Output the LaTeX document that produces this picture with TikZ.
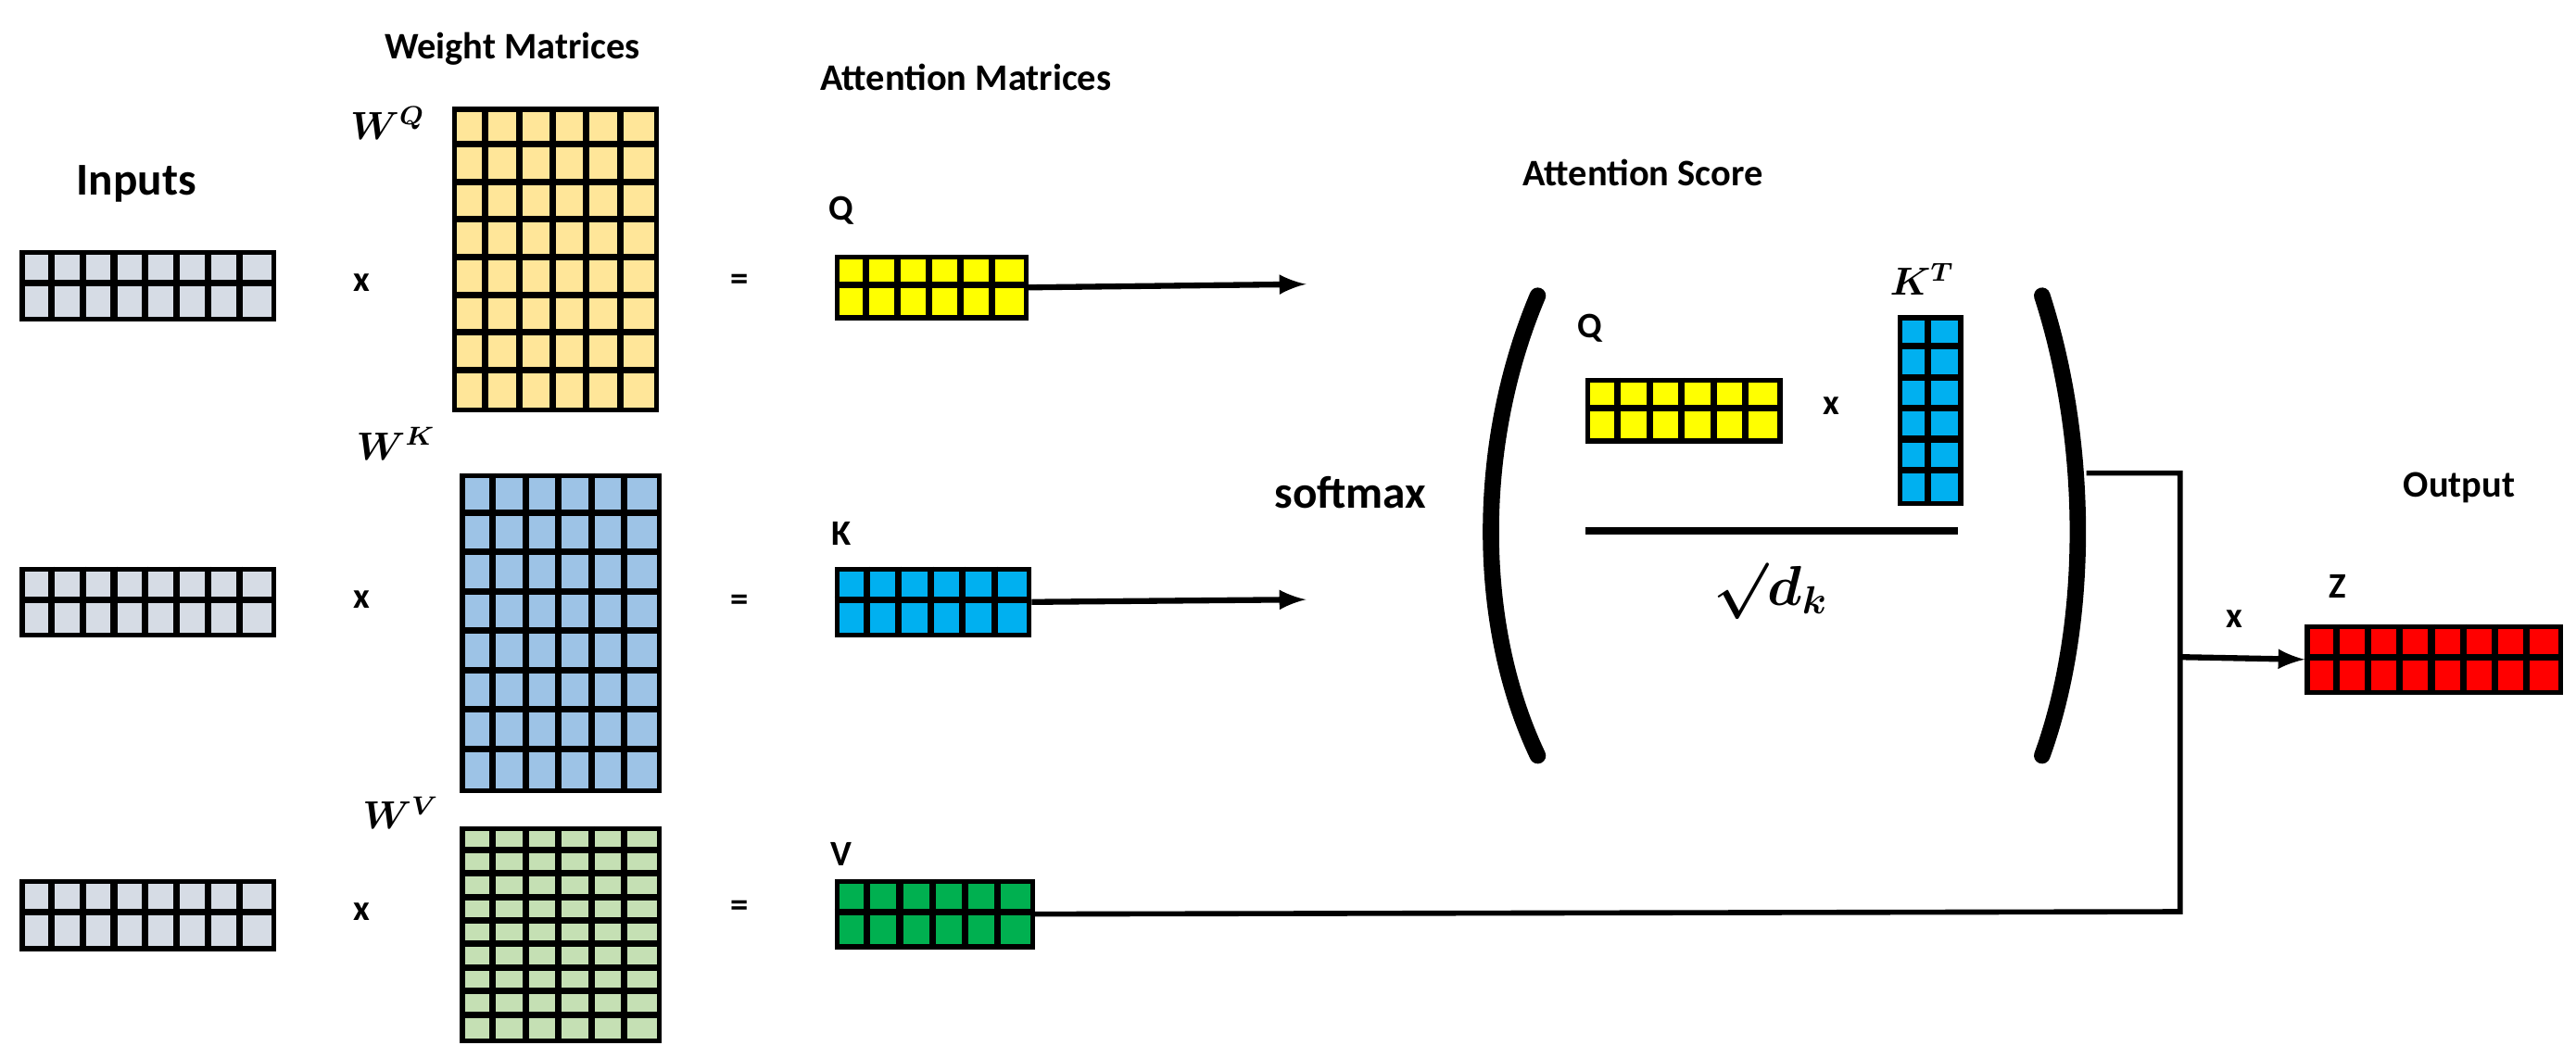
\documentclass[tikz,border=0pt]{standalone}
\usepackage{amsmath}
\usepackage{fontspec}
\setmainfont{Carlito}
\begin{document}
\newcommand\mymat[8]{% name, x0,y0,x1,y1, cols, rows, color
  \node[draw=black,fill=#8,line width=1.5pt,inner sep=0,minimum width={(#4-#2)*0.01773cm},minimum height={(#5-#3)*0.01773cm},anchor=north west] (#1) at (#2,#3) {};
  \pgfmathsetmacro\cw{(#4-#2)/#6}\pgfmathsetmacro\rh{(#5-#3)/#7}
  \foreach \i in {1,...,\numexpr#6-1\relax}{\draw[line width=2pt] ({#2+\i*\cw},#3) -- ({#2+\i*\cw},#5);}
  \foreach \j in {1,...,\numexpr#7-1\relax}{\draw[line width=2pt] (#2,{#3+\j*\rh}) -- (#4,{#3+\j*\rh});}
}
\begin{tikzpicture}[x=0.01773cm,y=-0.01773cm,
  ttl/.style={font=\fontsize{11.5}{13}\selectfont\bfseries},
  big/.style={font=\fontsize{14}{16}\selectfont\bfseries},
  lbl/.style={font=\fontsize{11}{13}\selectfont\bfseries},
  mth/.style={font=\fontsize{12}{14}\selectfont},
  arr/.style={line width=1.8pt,-latex}]
\useasboundingbox (0,0) rectangle (1568,644);
\definecolor{inp}{HTML}{D6DCE5}\definecolor{wq}{HTML}{FFE699}\definecolor{wk}{HTML}{9DC3E6}
\definecolor{wv}{HTML}{C5E0B4}\definecolor{yq}{HTML}{FFFF00}\definecolor{bk}{HTML}{00B0F0}
\definecolor{gv}{HTML}{00B050}\definecolor{rz}{HTML}{FF0000}
\node[ttl] (t1) at (312,30) {Weight Matrices};
\node[ttl] (t2) at (588,47) {Attention Matrices};
\node[big] (t3) at (83,112) {Inputs};
\node[ttl] (t4) at (1000,105) {Attention Score};
\node[ttl] (t5) at (1497,297) {Output};
\mymat{i1}{12}{152}{165}{193}{8}{2}{inp}
\mymat{i2}{12}{345}{165}{385}{8}{2}{inp}
\mymat{i3}{12}{535}{165}{576}{8}{2}{inp}
\mymat{wq}{275}{65}{398}{248}{6}{8}{wq}
\mymat{wk}{280}{288}{400}{480}{6}{8}{wk}
\mymat{wv}{280}{503}{400}{632}{6}{9}{wv}
\node[mth] (lwq) at (236,75) {$\boldsymbol{W^{Q}}$};
\node[mth] (lwk) at (241,270) {$\boldsymbol{W^{K}}$};
\node[mth] (lwv) at (244,495) {$\boldsymbol{W^{V}}$};
\foreach \y/\n in {172/1,365/2,555/3}{\node[lbl] (x\n) at (220,\y) {x};}
\foreach \y/\n in {172/1,367/2,553/3}{\node[lbl] (e\n) at (450,\y) {=};}
\mymat{q}{508}{155}{623}{192}{6}{2}{yq}
\mymat{k}{508}{345}{625}{385}{6}{2}{bk}
\mymat{v}{508}{535}{627}{575}{6}{2}{gv}
\node[lbl] (lq) at (512,128) {Q};
\node[lbl] (lk) at (512,325) {K};
\node[lbl] (lv) at (512,520) {V};
\coordinate (qa) at (795,173);
\coordinate (ka) at (795,365);
\draw[arr] (q.east) -- (qa);
\draw[arr] (k.east) -- (ka);
\node[big] (sm) at (822,300) {softmax};
\draw[line width=5pt,line cap=round] (936,180) .. controls (898,270) and (898,380) .. (936,460);
\draw[line width=5pt,line cap=round] (1243,180) .. controls (1272,270) and (1272,380) .. (1243,460);
\mymat{qi}{965}{230}{1082}{267}{6}{2}{yq}
\mymat{kt}{1155}{192}{1192}{305}{2}{6}{bk}
\node[lbl] (lqi) at (968,200) {Q};
\node[mth] (lkt) at (1170,170) {$\boldsymbol{K^{T}}$};
\node[lbl] (xi) at (1115,247) {x};
\coordinate (fl) at (965,323); \coordinate (fr) at (1192,323);
\draw[line width=2.2pt] (fl) -- (fr);
\node[font=\fontsize{17}{19}\selectfont] (dk) at (1078,360) {$\boldsymbol{\surd d_k}$};
\coordinate (p1) at (1270,288); \coordinate (j1) at (1327,288);
\coordinate (j2) at (1327,555); \coordinate (j3) at (1327,400);
\draw[line width=1.6pt] (p1) -- (j1) -- (j2) -- (v.east);
\mymat{z}{1403}{380}{1557}{420}{8}{2}{rz}
\draw[arr] (j3) -- (z.west);
\node[lbl] (xo) at (1360,377) {x};
\node[lbl] (lz) at (1423,357) {Z};
\end{tikzpicture}
\end{document}
